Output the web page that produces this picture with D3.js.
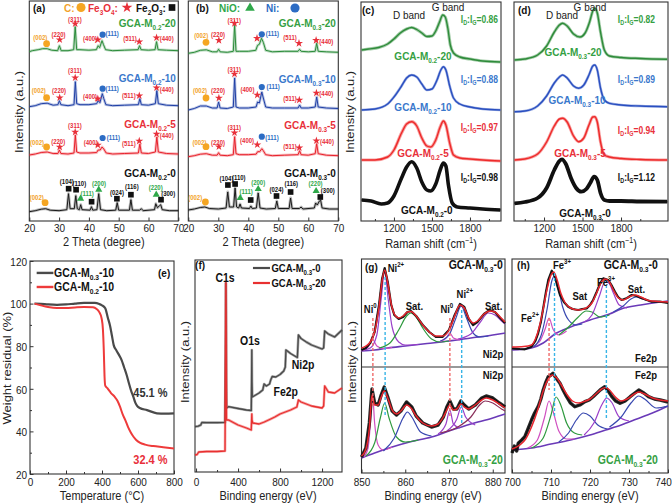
<!DOCTYPE html>
<html lang="en">
<head>
<meta charset="utf-8">
<title>GCA composites: XRD, Raman, TGA and XPS</title>
<script src="https://cdn.jsdelivr.net/npm/d3@7"></script>
<style>
  body { margin: 0; background: #fff; }
  svg { display: block; }
</style>
</head>
<body>
<script>
// ================= DATA =================
// XRD (a) GCA-M0.2 series: [2theta, intensity above the trace baseline]
const xrdA_M20 = [[20,0],[21,1],[23,2],[24.5,3],[26,3],[27.5,1.5],[29.5,1],[30.1,6],[30.7,1],[33,1],[34.9,2],[35.4,25],[35.9,2],[37,2],[40,1.5],[42.5,2],[43.1,6],[43.6,4],[44.4,11],[44.9,7],[45.6,2],[48,1],[52,1.5],[56.5,2],[57,6],[57.5,2],[60,1.5],[62.2,2],[62.7,10],[63.2,2],[66,1.5],[70,1]];
const xrdA_M10 = [[20,0],[22,1],[24,3],[26,3.5],[28,1.5],[29.6,2],[30.1,6],[30.6,2],[33,1],[35,2],[35.45,25],[35.9,3],[37,2],[40,2],[42.6,3],[43.1,6],[43.7,4],[44.5,13],[45,8],[45.7,2],[48,1],[52,1.5],[56.6,2],[57.1,8],[57.6,2],[60,1.5],[62.3,3],[62.8,16],[63.3,3],[66,1.5],[70,1]];
const xrdA_M5 = [[20,0],[22,1],[24,2.5],[26,3],[28,1.5],[29.6,1.5],[30.1,5],[30.6,1.5],[33,1],[35,2],[35.45,20],[35.9,3],[37,2],[40,2],[42.6,2.5],[43.1,5],[43.8,5],[44.4,8],[45,6],[45.8,2],[48,1],[52,1.5],[56.6,2],[57.1,11],[57.6,2],[60,1.5],[62.3,3],[62.8,18],[63.3,3],[66,1.5],[70,1]];
const xrdA_M0 = [[20,0],[22,1],[24,2.5],[25.5,3],[27,1.5],[30,1],[32.6,2],[33.15,18],[33.7,3],[35.1,3],[35.6,16],[36.1,3],[36.8,2],[37.25,7],[37.7,2],[40.4,1.5],[40.85,5],[41.3,1.5],[42.7,2],[43.3,18],[43.9,2],[46,1],[49,1.5],[49.5,9],[50,1.5],[53.6,1.5],[54.1,12],[54.6,1.5],[57,1.5],[57.6,3],[58.2,1],[62,2],[62.45,8],[63,4],[63.7,6],[64.1,7],[64.6,2],[67,1],[70,1]];
// XRD (b) GCA-M0.3 series
const xrdB_M20 = [[20,0],[22,1],[24,3],[26,3.5],[28,1.5],[29.6,1.5],[30.1,4],[30.6,1.5],[33,1],[35,2],[35.45,28],[35.9,2],[37,2],[40,2],[42.5,3],[43.1,8],[43.7,9],[44.4,15],[45,11],[45.8,3],[48,1.5],[52,2],[56.6,2],[57.1,4],[57.6,2],[60,1.5],[62.3,2],[62.8,10],[63.3,2],[66,1.5],[70,1]];
const xrdB_M10 = [[20,0],[22,1.5],[24,4],[26,4],[28,2],[29.6,2],[30.1,8],[30.6,2],[33,1.5],[35,3],[35.45,32],[35.9,3],[37,2],[40,2],[42.6,3],[43.1,8],[43.7,7],[44.5,18],[45,12],[45.8,3],[48,2],[52,2],[56.6,2],[57.1,5],[57.6,2],[60,2],[62.3,3],[62.8,13],[63.3,3],[66,2],[70,1.5]];
const xrdB_M5 = [[20,0],[22,1],[24,2.5],[26,3],[28,1.5],[29.6,1.5],[30.1,4],[30.6,1.5],[33,1],[35,2],[35.45,20],[35.9,3],[37,2],[40,2],[42.6,2.5],[43.1,5],[43.8,5],[44.5,8],[45,6],[45.8,2],[48,1],[52,1.5],[56.6,2],[57.1,6],[57.6,2],[60,1.5],[62.3,3],[62.8,13],[63.3,3],[66,1.5],[70,1]];
const xrdB_M0 = [[20,0],[22,1],[24,2.5],[25.5,3],[27,1.5],[30,1],[32.6,2],[33.15,18],[33.7,3],[35.1,3],[35.6,22],[36.1,3],[36.8,2],[37.25,6],[37.7,2],[40.4,1.5],[40.85,4],[41.3,1.5],[42.7,2],[43.3,17],[43.9,2],[46,1],[49,1.5],[49.5,9],[50,1.5],[53.6,1.5],[54.1,12],[54.6,1.5],[57,1.5],[57.6,3],[58.2,1],[62,2],[62.45,7],[63,5],[63.7,9],[64.1,10],[64.6,2],[67,1],[70,1]];

// XRD peak markers [symbol, 2theta, height] and hkl labels [text, 2theta, height, symbol]
const marksA_M20 = [["C",25.8,8],["star",30.2,12],["star",35.4,28],["star",43.0,12],["Ni",44.6,17],["star",56.9,10],["star",62.7,14]];
const hklA_M20 = [["(002)",23.7,15,"C"],["(220)",29.8,18,"star"],["(311)",35.3,32.5,"star"],["(400)",40.4,14,"star"],["(111)",47.8,19,"Ni"],["(511)",53.8,14,"star"],["(440)",66.1,14,"star"]];
const marksA_M10 = [["C",25.8,9],["star",30.2,9],["star",35.4,29],["star",43.0,8],["Ni",44.6,18],["star",56.9,11],["star",62.7,19]];
const hklA_M10 = [["(002)",23.2,17,"C"],["(220)",30.0,17,"star"],["(311)",35.3,37,"star"],["(400)",40.4,11,"star"],["(111)",47.8,19,"Ni"],["(511)",53.4,12,"star"],["(440)",66.1,18,"star"]];
const marksA_M5 = [["C",25.8,8],["star",30.2,8],["star",35.4,23],["star",43.0,10],["Ni",44.6,17],["star",56.9,14],["star",62.7,21]];
const hklA_M5 = [["(002)",22.6,13,"C"],["(220)",29.7,14,"star"],["(311)",35.3,30,"star"],["(400)",40.6,13,"star"],["(111)",48.2,18,"Ni"],["(511)",53.4,12,"star"],["(440)",66.1,20,"star"]];
const marksA_M0 = [["C",25.3,9],["sq",33.2,23],["sq",35.7,22],["tri",37.2,13],["sq",40.9,10],["tri",43.3,22],["sq",49.4,13],["sq",54.1,17],["tri",62.6,17],["sq",64.2,12]];
const hklA_M0 = [["(002)",22.5,15,"C"],["(104)",32.6,31,"sq"],["(110)",36.8,29,"sq"],["(111)",39.4,19,"tri"],["(200)",43.4,29,"tri"],["(024)",49.4,20,"sq"],["(116)",54.4,26,"sq"],["(220)",62.4,25,"tri"],["(300)",66.6,19,"sq"]];
const marksB_M20 = [["C",25.9,11],["star",30.2,13],["star",35.4,30],["star",42.9,15],["Ni",44.5,19],["star",56.9,10],["star",62.6,13]];
const hklB_M20 = [["(002)",24.3,19,"C"],["(220)",29.9,20,"star"],["(311)",35.3,34,"star"],["(111)",48.0,21,"Ni"],["(511)",53.9,17,"star"],["(440)",66.0,13,"star"]];
const marksB_M10 = [["C",25.9,12],["star",30.2,12],["star",35.4,36],["star",43.0,15],["Ni",44.5,23],["star",57.0,10],["star",62.7,17]];
const hklB_M10 = [["(002)",23.9,20,"C"],["(220)",29.9,20,"star"],["(311)",35.3,41,"star"],["(400)",39.7,21,"star"],["(111)",48.3,24,"Ni"],["(511)",53.9,12,"star"],["(440)",66.0,17,"star"]];
const marksB_M5 = [["C",25.9,10],["star",30.2,10],["star",35.4,24],["star",43.0,12],["Ni",44.5,20],["star",57.0,9],["star",62.7,16]];
const hklB_M5 = [["(002)",23.7,15,"C"],["(220)",29.9,15,"star"],["(311)",35.3,30,"star"],["(400)",39.6,17,"star"],["(111)",47.9,20,"Ni"],["(511)",53.9,11,"star"],["(440)",66.2,16,"star"]];
const marksB_M0 = [["C",25.7,8],["sq",33.2,25],["sq",35.6,26],["tri",37.3,12],["sq",40.8,10],["tri",43.3,21],["sq",49.4,14],["sq",54.1,18],["tri",62.6,19],["sq",64.0,13]];
const hklB_M0 = [["(002)",22.3,13,"C"],["(104)",32.7,32,"sq"],["(110)",36.8,33,"sq"],["(111)",39.3,19,"tri"],["(200)",43.3,28,"tri"],["(024)",49.4,21,"sq"],["(116)",54.3,27,"sq"],["(220)",62.4,27,"tri"],["(300)",66.5,20,"sq"]];

// Raman (c) GCA-M0.2 and (d) GCA-M0.3: [shift cm-1, intensity above trace baseline]
const ramanC_M20 = [[945,0],[1000,1],[1080,2.5],[1150,6],[1200,11],[1250,17],[1300,21],[1340,22.5],[1380,20.5],[1420,17],[1460,13.5],[1500,14],[1530,19],[1560,28],[1585,35],[1605,33],[1625,22],[1645,5],[1670,-3],[1720,-7],[1800,-9],[1900,-11],[2040,-12]];
const ramanC_M10 = [[945,0],[1050,1],[1150,6],[1200,13],[1260,24],[1300,32],[1340,35],[1380,33],[1420,26],[1460,20],[1500,21],[1540,30],[1570,40],[1590,43.3],[1610,40],[1640,24],[1670,12],[1720,6],[1800,3],[1900,1],[2040,0]];
const ramanC_M5 = [[945,0],[1050,0],[1150,3],[1200,10],[1260,27],[1300,36],[1340,38.3],[1380,34],[1420,22],[1460,14],[1490,13],[1530,20],[1565,33],[1590,39],[1610,35],[1640,17],[1670,5],[1720,2],[1800,1],[1900,0],[2040,-1]];
const ramanC_M0 = [[945,0],[1020,-1],[1100,-4],[1150,-3],[1200,4],[1260,22],[1300,33],[1340,38.3],[1380,32],[1420,18],[1460,10],[1490,9],[1530,16],[1565,30],[1590,37],[1610,34],[1630,15],[1660,-3],[1700,-7],[1800,-8],[1900,-9],[2040,-10]];
const ramanD_M20 = [[970,0],[1050,1],[1150,5],[1220,14],[1280,28],[1320,35],[1345,36.7],[1380,34],[1430,26],[1480,23],[1520,27],[1555,38],[1580,49],[1595,51.7],[1615,47],[1640,28],[1670,10],[1710,4],[1800,2.5],[1950,1.5],[2160,0.7]];
const ramanD_M10 = [[970,0],[1050,0.7],[1150,5.7],[1220,15.7],[1280,28.7],[1320,34.7],[1345,36.7],[1380,33.7],[1430,25.7],[1470,23.4],[1510,26.7],[1550,36.7],[1580,45.7],[1595,46.7],[1615,41.7],[1640,23.7],[1670,11.7],[1710,8.4],[1800,6.7],[1950,5.7],[2160,5]];
const ramanD_M5 = [[970,0],[1050,1],[1150,6],[1220,18],[1280,34],[1320,41],[1345,41.7],[1380,38],[1430,24],[1470,18.3],[1510,22],[1550,35],[1580,43],[1595,43.3],[1615,38],[1640,18],[1670,5],[1710,3],[1800,1.5],[1950,0.5],[2160,0]];
const ramanD_M0 = [[970,0],[1050,1.3],[1150,5.3],[1220,15.3],[1280,33.3],[1320,42.3],[1340,44],[1370,39.3],[1410,25.3],[1450,15.3],[1490,11.6],[1530,14.3],[1560,20.3],[1590,26.6],[1615,23.3],[1640,10.3],[1670,3.3],[1710,2.3],[1800,2.3],[1950,1.8],[2160,1.6]];
const ratiosC = ["0.86","0.88","0.97","0.98"];
const ratiosD = ["0.82","0.89","0.94","1.12"];

// TGA (e): [temperature C, weight %]
const tgaM03_10 = [[25,100],[60,99.9],[100,99.6],[150,99.4],[200,99.6],[250,100],[300,100.3],[360,100.3],[385,99.8],[400,99.2],[418,97.8],[432,93.5],[445,89.5],[455,85],[465,80.5],[480,78],[495,75.8],[509,73.5],[523,70],[537,66.5],[550,62.5],[562,59],[574,56.3],[585,53.5],[595,52],[610,51],[650,50],[705,48.5],[750,48.3],[800,48.5]];
const tgaM02_10 = [[25,100],[60,99.2],[100,98.4],[150,97.9],[200,97.9],[250,98.2],[300,98.4],[350,98.3],[370,97.5],[385,96],[398,93],[405,88],[410,78],[414,66],[418,61.5],[430,60.3],[450,58],[470,56.3],[485,54.5],[500,51.6],[515,48],[530,45.2],[545,42],[560,39.5],[575,37.5],[590,36],[610,34.7],[640,33.8],[685,33.1],[740,32.6],[800,32]];
const residues = ["45.1 %", "32.4 %"];

// XPS survey (f): [binding energy eV, intensity]
const surveyM03_0 = [[-10,45.3],[20,45.8],[45,47],[55,49.5],[100,49.4],[200,49.4],[276,49.6],[281,120],[284,189],[287,120],[290,64],[310,65.3],[400,63.5],[480,62],[526,61.5],[529,90],[531,122],[533,90],[536,75],[560,76.5],[600,79],[635,82],[648,88],[670,86],[700,88],[711,92],[725,95.5],[760,95],[800,97.5],[835,101],[850,105],[856,122],[870,121],[900,118.5],[940,116],[965,114.5],[975,137],[1000,133.5],[1050,130],[1100,127],[1150,125],[1200,123],[1215,124],[1225,141],[1260,138],[1320,135],[1390,142]];
const surveyM03_20 = [[-10,17],[10,17.5],[25,20],[100,20.5],[200,20.5],[276,21],[281,120],[284,189],[287,120],[290,52],[310,52],[400,47],[480,44],[526,42],[529,52],[531,58],[533,52],[540,49],[600,48],[650,50],[711,53],[750,55],[800,58],[850,60],[900,62],[960,65],[975,72],[1000,70],[1100,66],[1200,64],[1215,66],[1225,86],[1260,80],[1320,79],[1390,84]];

// XPS Ni2p (g): top GCA-M0.3-0, bottom GCA-M0.3-20
const niTop_data = [[850,17],[851,19],[852,24],[853,35],[854,62],[854.7,88],[855.3,99],[856,85],[856.8,62],[857.5,52],[858.5,48],[859.5,50],[860.5,55],[861.3,56],[862.5,51],[864,42],[865.5,35],[867,30],[868.5,30],[870,37],[871.3,52],[872.5,63],[873.5,60],[874.5,48],[875.5,42],[876.5,45],[878,53],[879.3,57],[880.5,55],[881.7,49],[882.8,44]];
const niTop_fit = [[850,19],[851,21],[852,25],[853,35],[854,60],[854.7,86],[855.3,97],[856,84],[856.8,63],[857.5,53],[858.5,49],[859.5,51],[860.5,55],[861.3,55.5],[862.5,51],[864,42],[865.5,35],[867,31],[868.5,31],[870,37],[871.3,51],[872.5,62],[873.5,59],[874.5,49],[875.5,44],[876.5,46],[878,53],[879.3,56],[880.5,55],[881.7,50],[882.8,45]];
const niTop_bg = [[850,16],[853,17],[856,19],[860,21],[865,23.5],[870,26],[875,29],[880,32],[882.8,34]];
const niTop_ni0a = [[850,16],[851.5,20],[852.5,28],[853.5,21],[855,18.5],[857,19.5]];
const niTop_ni2a = [[850,16.5],[852,19],[853.5,32],[854.5,68],[855.3,96],[856.1,68],[857,40],[858.5,25],[860,22],[863,22.5]];
const niTop_sata = [[854,19],[856.5,24],[858.5,37],[860.3,51],[861.3,54],[862.5,50],[864,39],[866,28],[868,25],[870,26]];
const niTop_ni0b = [[868,25.5],[869.3,29],[870.2,34],[871,29],[872.5,27]];
const niTop_ni2b = [[868,26],[870,32],[871.5,48],[872.8,61],[874,49],[875.5,34],[877,30],[879,31]];
const niTop_satb = [[872,28],[875,33],[877,44],[879,54],[880.5,52],[882,46],[882.8,43]];
const niBot_data = [[850,16],[851,25],[851.8,50],[852.4,84],[853,70],[853.8,68],[854.5,78],[855.2,86],[856,76],[857,62],[858,58],[859,62],[860.3,71],[861.5,66],[862.5,57],[864,50],[866,46],[867.5,48],[868.7,56],[869.5,66],[870.2,72],[871,64],[871.8,64],[872.7,72],[873.5,68],[874.5,64],[876,68],[877.5,75],[878.5,77],[880,75],[881.5,70],[882.8,66]];
const niBot_fit = [[850,17],[851,24],[851.8,45],[852.4,78],[853,68],[853.8,68],[854.5,76],[855.2,82],[856,75],[857,63],[858,59],[859,62],[860.3,68],[861.5,64],[862.5,57],[864,50],[866,47],[867.5,49],[868.7,56],[869.5,63],[870.2,68],[871,63],[871.8,64],[872.7,69],[873.5,66],[874.5,64],[876,68],[877.5,73],[878.5,75],[880,73],[881.5,69],[882.8,65]];
const niBot_bg = [[850,15],[853,20],[857,26],[861,31],[866,36],[870,42],[875,49],[880,55],[882.8,59]];
const niBot_ni0a = [[850.5,16],[851.5,25],[852,48],[852.5,80],[853,50],[853.8,28],[855,23],[857,26]];
const niBot_ni2a = [[851,17],[853,30],[854.3,55],[855.3,70],[856.3,55],[858,36],[860,31],[863,33]];
const niBot_sata = [[855,22],[857.5,35],[859.5,55],[860.5,61],[861.5,56],[863.5,41],[866,37]];
const niBot_ni0b = [[867.5,39],[869.3,49],[870.2,63],[871,49],[872.5,45]];
const niBot_ni2b = [[869.5,42],[871.8,54],[872.8,66],[873.8,56],[876,48]];
const niBot_satb = [[868,40],[872,46],[875,56],[877,68],[878.3,72],[880,70],[882,64],[882.8,62]];

// XPS Fe2p (h)
const feTop_data = [[700,18.7],[702,18],[703.3,17.7],[705,20.3],[706,26],[706.7,33.7],[707.4,45],[708,58.7],[708.7,75],[709.3,87],[710.2,96.3],[711,90.3],[711.7,80],[712.3,72],[713.3,65],[714.4,60.3],[715.5,58],[717,57],[718,58],[719.2,58.7],[720,62],[720.8,67],[721.7,75],[722.6,83.7],[723.4,88.7],[724.7,87],[725.5,82],[726.4,75.3],[727.2,70],[728.1,67],[729.5,69],[730.7,72],[732,71],[733.3,68.7],[735.8,65.3],[737.9,65.3],[740,64]];
const feTop_fit = [[700,20],[703,20.5],[705,22],[706,28],[707,40],[708,58],[709,78],[710,92],[710.7,95],[711.5,88],[712.5,74],[713.5,65],[715,59],[717,57],[719,59],[720.5,64],[721.7,74],[722.8,84],[723.8,88],[724.8,86],[726,77],[727.3,69],[728.5,67],[730,70],[731.5,72],[733,70],[735,66.5],[737.5,65.5],[740,65]];
const feTop_bg = [[700,17],[705,19],[708,24],[711,33],[715,40],[720,47],[725,53],[728,58],[733,62],[738,65],[740,66]];
const feTop_fe2 = [[705,20],[707,25],[708.5,38],[709.5,49],[710.5,38],[712,32],[714,36]];
const feTop_fe3a = [[705.5,20],[707.5,32],[709,58],[710.2,86],[710.9,91],[711.8,80],[713,60],[714.5,47],[716.5,42],[718,43]];
const feTop_sata = [[712,32],[714.5,40],[717,50],[719,56],[720.5,55],[722.5,50],[725,52]];
const feTop_fe3b = [[718.5,45],[720.5,52],[722.5,72],[723.8,85],[724.8,84],[726,74],[727.5,62],[729.5,59]];
const feTop_satb = [[726,55],[728.5,61],[730.5,68],[731.8,70],[733.5,68],[736,65.5],[738,65]];
const feBot_data = [[700,20],[700.6,27],[701.2,22],[701.6,29.7],[702.5,33],[703.3,36.3],[704.2,45],[705,53],[705.8,60],[706.7,66.3],[707.4,74],[708,83],[708.6,90],[709.3,96.3],[710,98],[710.5,99.7],[711.3,95],[712.3,89.7],[713.1,83],[714,76.3],[715,70],[716.1,66.3],[717.4,68],[718.7,71.3],[719.8,73],[720.8,76.3],[721.8,80],[722.6,83],[723.8,86.3],[724.7,82],[725.6,76.3],[726.6,72],[727.7,69.7],[729,72],[730.3,76.3],[731.5,80],[732.5,83],[733.8,80],[735,76.3],[736.5,74],[738,73],[740,71]];
const feBot_fit = [[700,24],[702,28],[703.5,34],[705,46],[706.5,62],[708,82],[709.3,94],[710.4,98],[711.5,95],[712.5,89],[714,79],[715.5,72],[717,70],[718.5,71.5],[720,74],[721.5,79],[723,84],[724,85.5],[725,83],[726.5,76],[728,72],[729.5,74],[731,78],[732.5,81],[734,79],[736,75],[738,73],[740,72]];
const feBot_bg = [[700,23],[705,25],[710,29],[715,33],[720,38],[724,43],[728,48],[732,54],[736,60],[740,67]];
const feBot_fe2 = [[704,25],[706.5,33],[708.3,55],[709.5,72],[710.5,62],[712,42],[714,34],[716,34]];
const feBot_fe3a = [[705,25],[708,35],[710,58],[711.3,76],[712.5,68],[714,50],[716,40],[718,38]];
const feBot_sata = [[712,31],[714.5,40],[716.5,53],[718.3,60],[720,57],[722,48],[724.5,44]];
const feBot_fe3b = [[718.5,38],[721,50],[723,68],[724.3,75],[725.5,71],[727.5,56],[730,52]];
const feBot_satb = [[725,46],[728,56],[730.5,70],[732.5,77],[734,74],[737,65],[740,67]];

// ================= DRAWING =================
var FONT = "'Liberation Sans', Arial, Helvetica, sans-serif";
var K = 1.18;   // lettering in the figure is a bit taller than it is wide
var W = 672, H = 503;

var svg = d3.select("body").append("svg").attr("width", W).attr("height", H).style("font-family", FONT);
svg.append("rect").attr("width", W).attr("height", H).attr("fill", "#fff");

function rich(t, parts, fs) {
  var shift = 0;
  parts.forEach(function(p) {
    var s = typeof p === "string" ? p : p[0];
    var m = typeof p === "string" ? "" : p[1];
    var target = m === "sub" ? fs * 0.3 : (m === "sup" ? -fs * 0.36 : 0);
    t.append("tspan").attr("dy", (target - shift).toFixed(2)).attr("font-size", m ? fs * 0.64 : fs).text(s);
    shift = target;
  });
  return t;
}
function label(g, x, y, parts, o) {
  o = o || {};
  var fs = o.size || 11;
  var t = g.append("text")
    .attr("transform", "translate(" + x + "," + y + ") scale(1," + K + ")" + (o.rotate ? " rotate(-90)" : ""))
    .attr("fill", o.color || "#111").attr("font-weight", o.bold ? "bold" : "normal")
    .attr("text-anchor", o.anchor || "middle").attr("dominant-baseline", "central")
    .attr("font-size", fs);
  return rich(t, typeof parts === "string" ? [parts] : parts, fs);
}
function frame(x0, y0, x1, y1) {
  svg.append("rect").attr("x", x0).attr("y", y0).attr("width", x1 - x0).attr("height", y1 - y0)
     .attr("fill", "none").attr("stroke", "#333").attr("stroke-width", 1.1);
}
function xAxis(x, yB, major, minor, off) {
  var g = svg.append("g").attr("transform", "translate(0," + yB + ")");
  g.call(d3.axisBottom(x).tickValues(major).tickSize(-3.5).tickFormat(d3.format("d")));
  g.selectAll(".tick text").attr("y", null).attr("dy", null).attr("dominant-baseline", "central")
    .attr("transform", "translate(0," + off + ") scale(1," + K + ")")
    .attr("font-size", 10).attr("font-family", FONT).attr("fill", "#222");
  if (minor) g.append("g").call(d3.axisBottom(x).tickValues(minor).tickSize(-2).tickFormat(""));
  g.selectAll(".domain").remove();
  g.selectAll(".tick line").attr("stroke", "#333");
  return g;
}
function noisyLine(g, pts, line, color, wide, wideOp, thin) {
  g.append("path").datum(pts).attr("d", line).attr("fill", "none").attr("stroke", color)
   .attr("stroke-width", wide).attr("stroke-opacity", wideOp).attr("stroke-linejoin", "round");
  g.append("path").datum(pts).attr("d", line).attr("fill", "none").attr("stroke", color)
   .attr("stroke-width", thin).attr("stroke-linejoin", "round");
}
function gca(m, n) { return ["GCA-M", [m, "sub"], "-" + n]; }

var TXT = { green: "#35a043", blue: "#3a78cc", red: "#e8303a", black: "#111", orange: "#f2a22a" };
var SYM = {
  C:    { type: d3.symbolCircle,   size: 36, color: "#f5a623", text: TXT.orange },
  star: { type: d3.symbolStar,     size: 20, color: "#e8303a", text: TXT.red },
  Ni:   { type: d3.symbolCircle,   size: 30, color: "#2c6cc4", text: "#2c6cc4" },
  sq:   { type: d3.symbolSquare,   size: 32, color: "#111",    text: "#111" },
  tri:  { type: d3.symbolTriangle, size: 22, color: "#2fa84a", text: "#2fa84a" }
};

// ---------- (a) and (b) XRD
var yXRD = d3.scaleLinear().domain([0, 220]).range([221, 1]);
var xA = d3.scaleLinear().domain([20, 70]).range([29.3, 178.3]);
var xB = d3.scaleLinear().domain([20, 70]).range([188.3, 338.3]);

function xrdPanel(x, traces) {
  frame(x.range()[0], 1, x.range()[1], 221);
  xAxis(x, 221, [20, 30, 40, 50, 60, 70], null, 7);
  var g = svg.append("g");
  traces.forEach(function(tr) {
    var line = d3.line().x(function(d) { return x(d[0]); }).y(function(d) { return yXRD(d[1] + tr.base); });
    noisyLine(g, tr.data, line, tr.color, 2.8, 0.3, 1);
    tr.marks.forEach(function(m) {
      g.append("path").attr("d", d3.symbol().type(SYM[m[0]].type).size(SYM[m[0]].size)())
       .attr("transform", "translate(" + x(m[1]) + "," + yXRD(m[2] + tr.base) + ")")
       .attr("fill", SYM[m[0]].color);
    });
    tr.hkl.forEach(function(h) {
      label(g, x(h[1]), yXRD(h[2] + tr.base), h[0], { size: 6, bold: true, color: SYM[h[3]].text });
    });
    label(g, x(69.2), yXRD(tr.nameY), tr.name, { size: 10, bold: true, color: tr.text, anchor: "end" });
  });
  label(svg, (x.range()[0] + x.range()[1]) / 2, 242, "2 Theta (degree)", { size: 11, color: "#222" });
}

xrdPanel(xA, [
  { data: xrdA_M0,  base: 9.3,   color: "#1a1a1a", marks: marksA_M0,  hkl: hklA_M0,  name: gca("0.2", "0"),  nameY: 48,  text: TXT.black },
  { data: xrdA_M5,  base: 66,    color: "#e8212b", marks: marksA_M5,  hkl: hklA_M5,  name: gca("0.2", "5"),  nameY: 97,  text: TXT.red },
  { data: xrdA_M10, base: 114.3, color: "#1f3fa6", marks: marksA_M10, hkl: hklA_M10, name: gca("0.2", "10"), nameY: 143, text: TXT.blue },
  { data: xrdA_M20, base: 169.3, color: "#2b8c3a", marks: marksA_M20, hkl: hklA_M20, name: gca("0.2", "20"), nameY: 198, text: TXT.green }
]);
xrdPanel(xB, [
  { data: xrdB_M0,  base: 11,    color: "#1a1a1a", marks: marksB_M0,  hkl: hklB_M0,  name: gca("0.3", "0"),  nameY: 48,  text: TXT.black },
  { data: xrdB_M5,  base: 64.3,  color: "#e8212b", marks: marksB_M5,  hkl: hklB_M5,  name: gca("0.3", "5"),  nameY: 96,  text: TXT.red },
  { data: xrdB_M10, base: 111,   color: "#1f3fa6", marks: marksB_M10, hkl: hklB_M10, name: gca("0.3", "10"), nameY: 142, text: TXT.blue },
  { data: xrdB_M20, base: 167.7, color: "#2b8c3a", marks: marksB_M20, hkl: hklB_M20, name: gca("0.3", "20"), nameY: 198, text: TXT.green }
]);
label(svg, 19, 112, "Intensity (a.u.)", { size: 11, color: "#222", rotate: true });

// legends (a), (b)
function sym(s, x, y, scale) {
  svg.append("path").attr("d", d3.symbol().type(SYM[s].type).size(SYM[s].size * (scale || 1.8))())
     .attr("transform", "translate(" + x + "," + y + ")").attr("fill", SYM[s].color);
}
label(svg, 33, 8, "(a)", { size: 10, bold: true, anchor: "start" });
label(svg, 64, 8, "C:", { size: 10, bold: true, anchor: "start", color: TXT.orange });
sym("C", 81, 7.5);
label(svg, 88, 8, ["Fe", ["3", "sub"], "O", ["4", "sub"], ":"], { size: 10, bold: true, anchor: "start", color: TXT.red });
sym("star", 127, 7.5);
label(svg, 136, 8, ["Fe", ["2", "sub"], "O", ["3", "sub"], ":"], { size: 10, bold: true, anchor: "start" });
sym("sq", 172, 7.5, 1.4);
label(svg, 196, 8, "(b)", { size: 10, bold: true, anchor: "start" });
label(svg, 219, 8, "NiO:", { size: 10, bold: true, anchor: "start", color: "#2fa84a" });
sym("tri", 250, 8);
label(svg, 266, 8, "Ni:", { size: 10, bold: true, anchor: "start", color: "#2c6cc4" });
sym("Ni", 295, 8, 2.2);

// ---------- (c) and (d) Raman
var yR = d3.scaleLinear().domain([0, 219]).range([221, 2]);
var xC = d3.scaleLinear().domain([940, 2045]).range([361, 501]);
var xD = d3.scaleLinear().domain([966, 2166]).range([514, 668]);

function ramanPanel(x, traces, ratios, tag, pos) {
  frame(x.range()[0], 2, x.range()[1], 221);
  xAxis(x, 221, [1200, 1500, 1800], [1050, 1350, 1650, 1950], 7);
  var g = svg.append("g");
  traces.forEach(function(tr, i) {
    var line = d3.line().curve(d3.curveMonotoneX).x(function(d) { return x(d[0]); }).y(function(d) { return yR(d[1] + tr.base); });
    noisyLine(g, tr.data, line, tr.color, tr.noise, tr.op, 1.4);
    label(g, x(pos.ratioX), yR(tr.ratioY), ["I", ["D", "sub"], ":I", ["G", "sub"], "=" + ratios[i]], { size: 8.5, bold: true, color: tr.text, anchor: "end" });
    label(g, x(tr.nameX), yR(tr.nameY), tr.name, { size: 10, bold: true, color: tr.text });
  });
  label(g, x(pos.tagX), yR(211), tag, { size: 10, bold: true, anchor: "start" });
  label(g, x(pos.dX), yR(206), "D band", { size: 10, color: "#222" });
  label(g, x(pos.gX), yR(214), "G band", { size: 10, color: "#222" });
  label(svg, (x.range()[0] + x.range()[1]) / 2, 244, ["Raman shift (cm", ["\u22121", "sup"], ")"], { size: 11, color: "#222" });
}
ramanPanel(xC, [
  { data: ramanC_M20, base: 171, color: "#2e8b3a", noise: 3.2, op: 0.45, text: TXT.green, ratioY: 201, name: gca("0.2", "20"), nameX: 1429, nameY: 165 },
  { data: ramanC_M10, base: 111, color: "#2a4fc0", noise: 2.6, op: 0.45, text: TXT.blue,  ratioY: 141, name: gca("0.2", "10"), nameX: 1429, nameY: 114 },
  { data: ramanC_M5,  base: 61,  color: "#ee2a2a", noise: 3.2, op: 0.45, text: TXT.red,   ratioY: 93,  name: gca("0.2", "5"),  nameX: 1429, nameY: 68 },
  { data: ramanC_M0,  base: 21,  color: "#111",    noise: 3.6, op: 1,    text: TXT.black, ratioY: 43,  name: gca("0.2", "0"),  nameX: 1460, nameY: 11 }
], ratiosC, "(c)", { ratioX: 2021, tagX: 948, dX: 1319, gX: 1627 });
ramanPanel(xD, [
  { data: ramanD_M20, base: 161,   color: "#2e8b3a", noise: 3.0, op: 0.45, text: TXT.green, ratioY: 201, name: gca("0.3", "20"), nameX: 1426, nameY: 169 },
  { data: ramanD_M10, base: 109.3, color: "#2a4fc0", noise: 2.6, op: 0.45, text: TXT.blue,  ratioY: 141, name: gca("0.3", "10"), nameX: 1457, nameY: 121 },
  { data: ramanD_M5,  base: 61,    color: "#ee2a2a", noise: 3.0, op: 0.45, text: TXT.red,   ratioY: 90,  name: gca("0.3", "5"),  nameX: 1480, nameY: 68 },
  { data: ramanD_M0,  base: 17.7,  color: "#111",    noise: 3.8, op: 1,    text: TXT.black, ratioY: 43,  name: gca("0.3", "0"),  nameX: 1519, nameY: 8 }
], ratiosD, "(d)", { ratioX: 2065, tagX: 997, dX: 1340, gX: 1558 });
label(svg, 350, 112, "Intensity (a.u.)", { size: 11, color: "#222", rotate: true });

// ---------- (e) TGA
var xE = d3.scaleLinear().domain([0, 800]).range([30, 174]);
var yE = d3.scaleLinear().domain([20, 120]).range([474, 261]);
frame(30, 261, 174, 474);
xAxis(xE, 474, [0, 200, 400, 600, 800], [100, 300, 500, 700], 8);
(function() {
  var g = svg.append("g").attr("transform", "translate(30,0)");
  g.call(d3.axisLeft(yE).tickValues([20, 40, 60, 80, 100, 120]).tickSize(-3.5));
  g.append("g").call(d3.axisLeft(yE).tickValues([30, 50, 70, 90, 110]).tickSize(-2).tickFormat(""));
  g.selectAll(".tick text").attr("x", null).attr("dy", null).attr("dominant-baseline", "central")
    .attr("transform", "translate(-3,0) scale(1," + K + ")").attr("font-size", 10).attr("font-family", FONT).attr("fill", "#222");
  g.selectAll(".domain").remove();
  g.selectAll(".tick line").attr("stroke", "#333");
  var line = d3.line().curve(d3.curveMonotoneX).x(function(d) { return xE(d[0]); }).y(function(d) { return yE(d[1]); });
  svg.append("path").datum(tgaM03_10).attr("d", line).attr("fill", "none").attr("stroke", "#4a4a4a").attr("stroke-width", 2.2);
  svg.append("path").datum(tgaM02_10).attr("d", line).attr("fill", "none").attr("stroke", "#ee3b3b").attr("stroke-width", 2);
  svg.append("line").attr("x1", xE(37)).attr("x2", xE(130)).attr("y1", yE(114.4)).attr("y2", yE(114.4)).attr("stroke", "#4a4a4a").attr("stroke-width", 2.4);
  svg.append("line").attr("x1", xE(37)).attr("x2", xE(130)).attr("y1", yE(107.8)).attr("y2", yE(107.8)).attr("stroke", "#ee3b3b").attr("stroke-width", 2.4);
  label(svg, xE(134), yE(114.4), gca("0.3", "10"), { size: 10.5, bold: true, anchor: "start" });
  label(svg, xE(134), yE(107.8), gca("0.2", "10"), { size: 10.5, bold: true, anchor: "start" });
  label(svg, xE(745), yE(114.4), "(e)", { size: 10, bold: true });
  label(svg, xE(669), yE(58), residues[0], { size: 11, bold: true, color: "#333" });
  label(svg, xE(669), yE(26.6), residues[1], { size: 11, bold: true, color: TXT.red });
})();
label(svg, 102, 496, "Temperature (\u00b0C)", { size: 11, color: "#222" });
label(svg, 7, 368, "Weight residual (%)", { size: 11, color: "#222", rotate: true });

// ---------- (f) XPS survey
var xF = d3.scaleLinear().domain([-10, 1390]).range([195, 342]);
var yF = d3.scaleLinear().domain([0, 212]).range([472, 260]);
frame(195, 260, 342, 472);
xAxis(xF, 472, [0, 400, 800, 1200], [200, 600, 1000], 10);
(function() {
  var line = d3.line().x(function(d) { return xF(d[0]); }).y(function(d) { return yF(d[1]); });
  var g = svg.append("g");
  noisyLine(g, surveyM03_0, line, "#4a4a4a", 2.6, 0.5, 1.3);
  noisyLine(g, surveyM03_20, line, "#e83030", 2.6, 0.45, 1.3);
  svg.append("line").attr("x1", xF(542)).attr("x2", xF(704)).attr("y1", yF(204)).attr("y2", yF(204)).attr("stroke", "#4a4a4a").attr("stroke-width", 2.2);
  svg.append("line").attr("x1", xF(542)).attr("x2", xF(704)).attr("y1", yF(189)).attr("y2", yF(189)).attr("stroke", "#e83030").attr("stroke-width", 2.2);
  label(svg, xF(718), yF(204), gca("0.3", "0"), { size: 9.5, bold: true, anchor: "start" });
  label(svg, xF(718), yF(189), gca("0.3", "20"), { size: 9.5, bold: true, anchor: "start" });
  label(svg, xF(38), yF(207), "(f)", { size: 10, bold: true });
  label(svg, xF(276), yF(194), "C1s", { size: 10.5, bold: true });
  label(svg, xF(514), yF(131), "O1s", { size: 10.5, bold: true });
  label(svg, xF(1019), yF(107), "Ni2p", { size: 10.5, bold: true });
  label(svg, xF(854), yF(80), "Fe2p", { size: 10.5, bold: true });
})();
label(svg, 268, 496, "Binding energy (eV)", { size: 11, color: "#222" });
label(svg, 185, 362, "Intensity (a.u.)", { size: 11, color: "#222", rotate: true });

// ---------- (g) Ni2p and (h) Fe2p
var yTop = d3.scaleLinear().domain([0, 108]).range([367, 259]);
var yBot = d3.scaleLinear().domain([0, 106]).range([473, 367]);
var xG = d3.scaleLinear().domain([850, 882.8]).range([361.5, 505]);
var xH = d3.scaleLinear().domain([700, 740]).range([512, 668]);

function fitBlock(x, y, d, noise) {
  var g = svg.append("g");
  var smooth = d3.line().curve(d3.curveMonotoneX).x(function(p) { return x(p[0]); }).y(function(p) { return y(p[1]); });
  var raw = d3.line().x(function(p) { return x(p[0]); }).y(function(p) { return y(p[1]); });
  g.append("path").datum(d.bg).attr("d", smooth).attr("fill", "none").attr("stroke", "#6a3ab8").attr("stroke-width", 1.6);
  d.comps.forEach(function(c) {
    g.append("path").datum(c[0]).attr("d", smooth).attr("fill", "none").attr("stroke", c[1]).attr("stroke-width", 1.2);
  });
  noisyLine(g, d.data, raw, "#111", noise, 0.9, 1.2);
  g.append("path").datum(d.fit).attr("d", smooth).attr("fill", "none").attr("stroke", "#e8262e").attr("stroke-width", 1.5);
}
function dashed(x, e, yA, yB, color) {
  svg.append("line").attr("x1", x(e)).attr("x2", x(e)).attr("y1", yA).attr("y2", yB)
    .attr("stroke", color).attr("stroke-width", 1.4).attr("stroke-dasharray", "3,2");
}
var PINK = "#d04fc0", PURP = "#9a3fc9", GRN = "#2f9a3f", NAVY = "#3848b0", BROWN = "#8a2f5a";
var RDASH = "#f06a6a", BDASH = "#38b4e6";

frame(361.5, 259, 505, 473);
svg.append("line").attr("x1", 361.5).attr("x2", 505).attr("y1", 367).attr("y2", 367).attr("stroke", "#333").attr("stroke-width", 1.1);
fitBlock(xG, yTop, { data: niTop_data, fit: niTop_fit, bg: niTop_bg,
  comps: [[niTop_ni0a, PINK], [niTop_ni2a, PURP], [niTop_sata, GRN], [niTop_ni0b, PINK], [niTop_ni2b, NAVY], [niTop_satb, PURP]] }, 2.2);
fitBlock(xG, yBot, { data: niBot_data, fit: niBot_fit, bg: niBot_bg,
  comps: [[niBot_ni0a, PINK], [niBot_ni2a, GRN], [niBot_sata, NAVY], [niBot_ni0b, PURP], [niBot_ni2b, PURP], [niBot_satb, BROWN]] }, 3.4);
dashed(xG, 852.6, yTop(49), yBot(66), RDASH);
dashed(xG, 855.4, yTop(90), yBot(56), BDASH);
dashed(xG, 870.2, yTop(49), yBot(56), RDASH);
dashed(xG, 872.9, yTop(57), yBot(50), BDASH);
xAxis(xG, 473, [850, 860, 870, 880], [855, 865, 875], 9);
label(svg, xG(850.8), yTop(100), "(g)", { size: 10, bold: true, anchor: "start" });
label(svg, xG(856.0), yTop(99), ["Ni", ["2+", "sup"]], { size: 9.5, bold: true, anchor: "start" });
label(svg, xG(882.3), yTop(102), gca("0.3", "0"), { size: 10.5, bold: true, anchor: "end" });
label(svg, xG(862.1), yTop(61), "Sat.", { size: 9.5, bold: true });
label(svg, xG(852.0), yTop(58), ["Ni", ["0", "sup"]], { size: 9.5, bold: true });
label(svg, xG(869.5), yTop(58), ["Ni", ["0", "sup"]], { size: 9.5, bold: true });
label(svg, xG(873.6), yTop(73), ["Ni", ["2+", "sup"]], { size: 9.5, bold: true });
label(svg, xG(880.2), yTop(61), "Sat.", { size: 9.5, bold: true });
label(svg, xG(882.4), yTop(13), "Ni2p", { size: 9.5, bold: true, anchor: "end" });
label(svg, xG(882.4), yBot(98), "Ni2p", { size: 9.5, bold: true, anchor: "end" });
label(svg, xG(882.3), yBot(13), gca("0.3", "20"), { size: 10.5, bold: true, anchor: "end", color: TXT.green });
label(svg, 433, 496, "Binding energy (eV)", { size: 11, color: "#222" });
label(svg, 352, 362, "Intensity (a.u.)", { size: 11, color: "#222", rotate: true });

frame(512, 259, 668, 473);
svg.append("line").attr("x1", 512).attr("x2", 668).attr("y1", 367).attr("y2", 367).attr("stroke", "#333").attr("stroke-width", 1.1);
fitBlock(xH, yTop, { data: feTop_data, fit: feTop_fit, bg: feTop_bg,
  comps: [[feTop_fe2, PINK], [feTop_fe3a, NAVY], [feTop_sata, GRN], [feTop_fe3b, PURP], [feTop_satb, NAVY]] }, 2.2);
fitBlock(xH, yBot, { data: feBot_data, fit: feBot_fit, bg: feBot_bg,
  comps: [[feBot_fe2, PINK], [feBot_fe3a, GRN], [feBot_sata, NAVY], [feBot_fe3b, PURP], [feBot_satb, NAVY]] }, 3.4);
dashed(xH, 709.5, yTop(49), yBot(83), RDASH);
dashed(xH, 710.9, yTop(94), yBot(56), BDASH);
dashed(xH, 724.2, yTop(87), yBot(53), BDASH);
var axH = xAxis(xH, 473, [700, 710, 720, 730, 740], [705, 715, 725, 735], 9);
// last label sits against the picture's right edge
axH.selectAll(".tick text").filter(function(d) { return d === 740; })
   .attr("transform", "translate(-5,9) scale(1," + K + ")");
label(svg, xH(701.3), yTop(102), "(h)", { size: 10, bold: true, anchor: "start" });
label(svg, xH(710.5), yTop(102), ["Fe", ["3+", "sup"]], { size: 9.5, bold: true, anchor: "start" });
label(svg, xH(737.4), yTop(102), gca("0.3", "0"), { size: 10.5, bold: true, anchor: "end" });
label(svg, xH(721.8), yTop(85), ["Fe", ["3+", "sup"]], { size: 9.5, bold: true, anchor: "start" });
label(svg, xH(717.4), yTop(71), "Sat", { size: 9.5, bold: true });
label(svg, xH(731.9), yTop(78), "Sat.", { size: 9.5, bold: true });
label(svg, xH(704.6), yTop(49), ["Fe", ["2+", "sup"]], { size: 9.5, bold: true });
label(svg, xH(737.2), yTop(9), "Fe2p", { size: 9.5, bold: true, anchor: "end" });
label(svg, xH(737.2), yBot(98), "Fe2p", { size: 9.5, bold: true, anchor: "end" });
label(svg, xH(737.4), yBot(13), gca("0.3", "20"), { size: 10.5, bold: true, anchor: "end", color: TXT.green });
label(svg, 590, 496, "Binding energy (eV)", { size: 11, color: "#222" });
</script>
</body>
</html>
